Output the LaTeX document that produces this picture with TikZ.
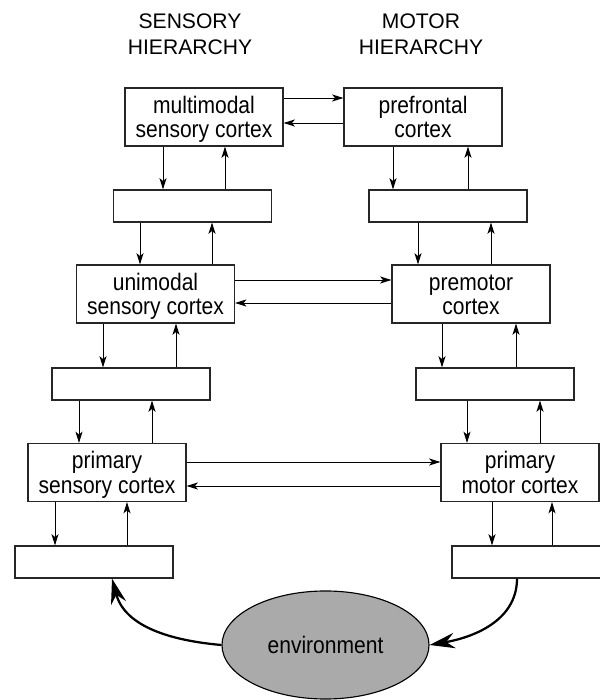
\documentclass[tikz,border=0pt]{standalone}
\usepackage{fontspec}
\setmainfont{Liberation Sans}
\newfontfamily\areafont[FakeStretch=0.88]{Liberation Sans}
\usetikzlibrary{arrows.meta,calc,shapes.geometric}
\definecolor{envgray}{RGB}{170,170,170}
\newcommand{\twolines}[2]{\rule{0pt}{16.1pt}#1\\#2\rule[-4pt]{0pt}{4pt}}
\tikzset{
  cortex/.style={draw=black!85, line width=0.8pt, minimum width=3.95cm, minimum height=1.45cm, align=center, inner sep=0pt,
    font=\areafont\fontsize{17}{17.7}\selectfont},
  relay/.style={draw=black!85, line width=0.8pt, minimum width=3.95cm, minimum height=0.8cm, inner sep=0pt},
  link/.style={-{Stealth[length=8pt,width=5pt,inset=2pt]}, line width=0.7pt},
  feedback/.style={-{Stealth[length=18pt,width=11pt,inset=6pt]}, line width=1.6pt},
}
\begin{document}
\begin{tikzpicture}[x=0.025cm,y=0.025cm,font=\fontsize{15}{18.5}\selectfont]
\useasboundingbox (0,0) rectangle (600,700);
% headings
\node[align=center] (sh) at (190,666) {SENSORY\\HIERARCHY};
\node[align=center] (mh) at (421,666) {MOTOR\\HIERARCHY};
% sensory side
\node[cortex] (mm) at (204,583) {\twolines{multimodal}{sensory cortex}};
\node[relay] (r2l) at (192.5,494) {};
\node[cortex] (um) at (155.5,406) {\twolines{unimodal}{sensory cortex}};
\node[relay] (r3l) at (131,316) {};
\node[cortex] (ps) at (107,227.5) {\twolines{primary}{sensory cortex}};
\node[relay] (r4l) at (94,138) {};
% motor side
\node[cortex] (pf) at (423,583) {\twolines{prefrontal}{cortex}};
\node[relay] (r2r) at (448,494) {};
\node[cortex] (pm) at (471,406) {\twolines{premotor}{cortex}};
\node[relay] (r3r) at (495,316) {};
\node[cortex] (pmc) at (520,227.5) {\twolines{primary}{motor cortex}};
\node[relay] (r4r) at (531,138) {};
\node[ellipse, draw, line width=0.8pt, fill=envgray, minimum width=5.175cm, minimum height=2.7cm,
  font=\areafont\fontsize{17}{17.7}\selectfont] (env) at (325.5,55) {environment};
% downward
\foreach \a/\b/\x in {mm/r2l/163, r2l/um/140, um/r3l/103, r3l/ps/79, ps/r4l/55, pf/r2r/393, r2r/pm/418, pm/r3r/442, r3r/pmc/467, pmc/r4r/492}
  \draw[link] (\a.south -| \x,0) -- (\b.north -| \x,0);
% upward
\foreach \a/\b/\x in {r2l/mm/225, um/r2l/212, r3l/um/176, ps/r3l/152, r4l/ps/127, r2r/pf/468, pm/r2r/491, r3r/pm/516, pmc/r3r/540, r4r/pmc/552}
  \draw[link] (\a.north -| \x,0) -- (\b.south -| \x,0);
% across
\draw[link] ($(mm.east)+(0,19)$) -- ($(pf.west)+(0,19)$);
\draw[link] ($(pf.west)+(0,-6)$) -- ($(mm.east)+(0,-6)$);
\draw[link] ($(um.east)+(0,14)$) -- ($(pm.west)+(0,14)$);
\draw[link] ($(pm.west)+(0,-9)$) -- ($(um.east)+(0,-9)$);
\draw[link] ($(ps.east)+(0,10.5)$) -- ($(pmc.west)+(0,10.5)$);
\draw[link] ($(pmc.west)+(0,-13.5)$) -- ($(ps.east)+(0,-13.5)$);
% environment loop
\draw[feedback] (env.west) to[out=175,in=-75] (r4l.south -| 112,0);
\draw[feedback] (r4r.south -| 517,0) to[out=-90,in=10] (env.east);
\end{tikzpicture}
\end{document}
